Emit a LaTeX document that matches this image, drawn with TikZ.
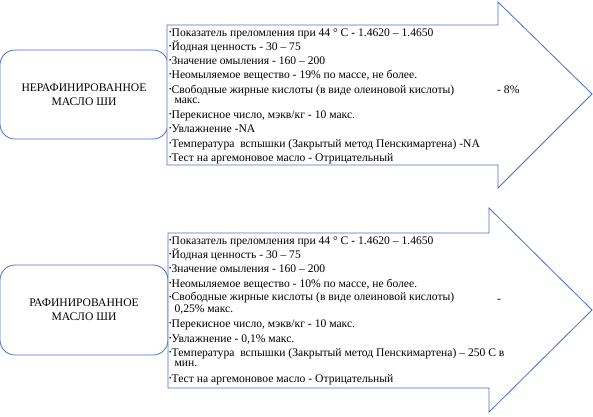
\documentclass[tikz,border=0pt]{standalone}
\usepackage{fontspec}
\setmainfont{Liberation Serif}
\usetikzlibrary{positioning}

\definecolor{shapeblue}{RGB}{68,114,196}

\tikzset{
  oilbox/.style={draw=shapeblue, line width=0.8pt, rounded corners=15pt,
    minimum width=168pt, minimum height=89pt, inner sep=0pt},
  oiltitle/.style={align=center, font=\fontsize{11.6}{14}\selectfont},
  bigarrow/.style={draw=shapeblue, line width=0.8pt, fill=white},
  item/.style={anchor=base west, inner sep=0pt, align=left,
    font=\fontsize{11.6}{10}\selectfont},
}
\newcommand{\bul}{{\fontsize{7}{7}\selectfont\raisebox{1.5pt}{\textbullet}}}
\newcommand{\wrapin}{\phantom{\bul\ }}

\begin{document}
\begin{tikzpicture}[x=1pt, y=-1pt]

\useasboundingbox (0,0) rectangle (593,416);

% unrefined
\node[oilbox] (unref) at (84,94.5) {};
\node[oiltitle] at (unref.center) {НЕРАФИНИРОВАННОЕ\\МАСЛО ШИ};

\draw[bigarrow] (167,25) -- (498,25) -- (498,2) -- (592,94)
  -- (498,188) -- (498,165) -- (167,165) -- cycle;

% two-line items sit on the baseline of their last line
\node[item] (u1) at (169,36) {\bul Показатель преломления при 44 ° С - 1.4620 – 1.4650};
\node[item] (u2) at (169,50) {\bul Йодная ценность - 30 – 75};
\node[item] (u3) at (169,64) {\bul Значение омыления - 160 – 200};
\node[item] (u4) at (169,78) {\bul Неомыляемое вещество - 19\% по массе, не более.};
\node[item] (u5) at (169,103) {\bul Свободные жирные кислоты (в виде олеиновой кислоты)\\\wrapin макс.};
\node[item] (u5c) at (497,93) {- 8\%};
\node[item] (u6) at (169,118) {\bul Перекисное число, мэкв/кг - 10 макс.};
\node[item] (u7) at (169,132) {\bul Увлажнение -NA};
\node[item] (u8) at (169,147) {\bul Температура\ \ вспышки (Закрытый метод Пенскимартена) -NA};
\node[item] (u9) at (169,161) {\bul Тест на аргемоновое масло - Отрицательный};

% refined
\node[oilbox, minimum height=90pt] (ref) at (84,310) {};
\node[oiltitle] at (ref.center) {РАФИНИРОВАННОЕ\\МАСЛО ШИ};

\draw[bigarrow] (168,233) -- (489,233) -- (489,208) -- (592,310)
  -- (489,412) -- (489,388) -- (168,388) -- cycle;

\node[item] (r1) at (169,244) {\bul Показатель преломления при 44 ° С - 1.4620 – 1.4650};
\node[item] (r2) at (169,258) {\bul Йодная ценность - 30 – 75};
\node[item] (r3) at (169,272) {\bul Значение омыления - 160 – 200};
\node[item] (r4) at (169,287) {\bul Неомыляемое вещество - 10\% по массе, не более.};
\node[item] (r5) at (169,312) {\bul Свободные жирные кислоты (в виде олеиновой кислоты)\\\wrapin 0,25\% макс.};
\node[item] (r5c) at (497,302) {-};
\node[item] (r6) at (169,327) {\bul Перекисное число, мэкв/кг - 10 макс.};
\node[item] (r7) at (169,342) {\bul Увлажнение - 0,1\% макс.};
\node[item] (r8) at (169,366) {\bul Температура\ \ вспышки (Закрытый метод Пенскимартена) – 250 С в\\\wrapin мин.};
\node[item] (r9) at (169,382) {\bul Тест на аргемоновое масло - Отрицательный};

\end{tikzpicture}
\end{document}
